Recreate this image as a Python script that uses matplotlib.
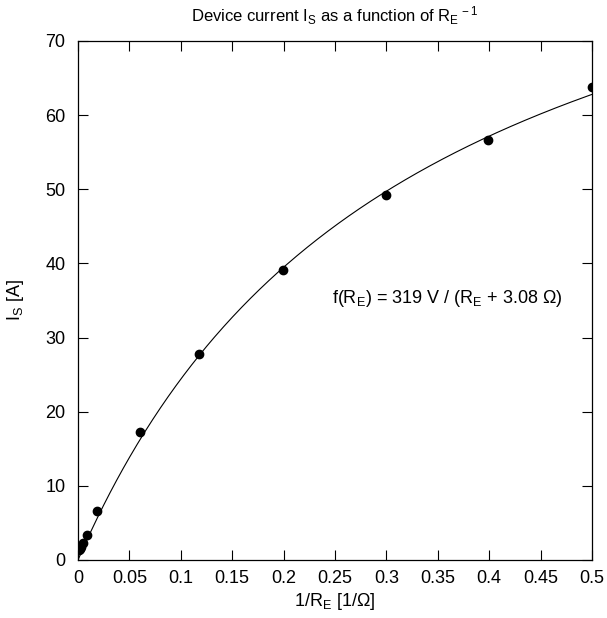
import matplotlib
matplotlib.use("Agg")
import matplotlib.pyplot as plt
import numpy as np

plt.rcParams['font.family'] = ['Liberation Sans', 'DejaVu Sans']
plt.rcParams['mathtext.fontset'] = 'custom'
plt.rcParams['mathtext.rm'] = 'Liberation Sans'
plt.rcParams['mathtext.it'] = 'Liberation Sans:italic'

# measured points: 1/R_E [1/Ohm] and device current I_S [A]
inv_re = [0.001, 0.002, 0.003, 0.005, 0.0088, 0.018, 0.060, 0.118, 0.199, 0.2996, 0.399, 0.5]
i_s = [1.35, 1.5, 1.75, 2.3, 3.4, 6.6, 17.3, 27.8, 39.1, 49.2, 56.6, 63.8]

# fit parameters f(R_E) = U / (R_E + R_i)
U_FIT = 319.0
R_FIT = 3.08


def fit(x):
    return U_FIT / (1.0 / x + R_FIT)


def main():
    fig = plt.figure(figsize=(6.07, 6.18), dpi=100)
    ax = fig.add_axes([0.1285, 0.0939, 0.9753 - 0.1285, 0.9337 - 0.0939])

    xs = np.linspace(1e-4, 0.5, 400)
    ax.plot(xs, fit(xs), color='black', linewidth=0.8)
    ax.plot(inv_re, i_s, 'o', color='black', markersize=6)

    ax.set_xlim(0, 0.5)
    ax.set_ylim(0, 70)
    ax.set_xticks(np.arange(0, 0.51, 0.05))
    ax.set_xticklabels(['0', '0.05', '0.1', '0.15', '0.2', '0.25', '0.3', '0.35', '0.4', '0.45', '0.5'])
    ax.set_yticks(np.arange(0, 71, 10))
    ax.tick_params(direction='in', top=True, right=True, labelsize=13, length=7, width=0.8)
    ax.tick_params(axis='y', pad=9)
    ax.tick_params(axis='x', pad=7)
    for s in ax.spines.values():
        s.set_linewidth(0.9)

    ax.set_xlabel('1/R$_\\mathrm{E}$ [1/Ω]', fontsize=13, labelpad=3)
    ax.set_ylabel('I$_\\mathrm{S}$ [A]', fontsize=13, labelpad=14)
    ax.set_title('Device current I$_\\mathrm{S}$ as a function of R$_\\mathrm{E}$$^{\\mathrm{\\,-1}}$',
                 fontsize=12, pad=14)
    ax.text(0.247, 35.3, 'f(R$_\\mathrm{E}$) = 319 V / (R$_\\mathrm{E}$ + 3.08 Ω)', fontsize=13, va='center')

    fig.savefig('out.png', dpi=100)


if __name__ == "__main__":
    main()
